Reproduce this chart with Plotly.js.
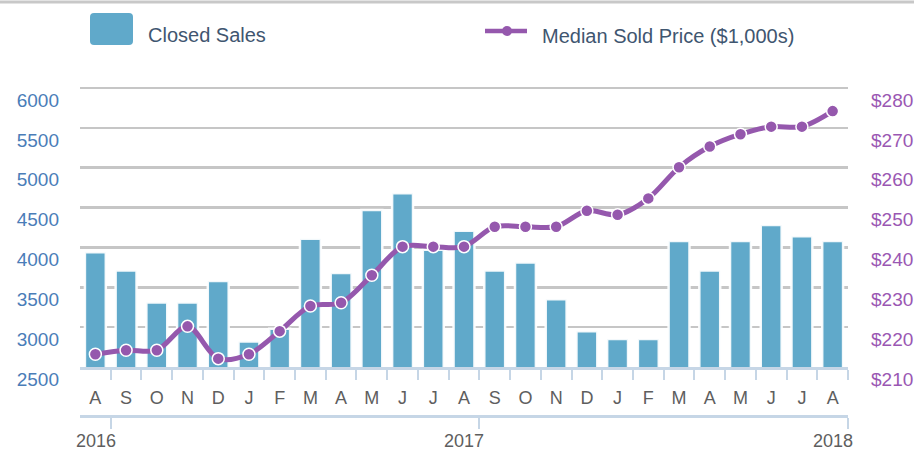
<!DOCTYPE html>
<html>
<head>
<meta charset="utf-8">
<script src="https://cdn.plot.ly/plotly-3.0.1.min.js"></script>
<style>html,body{margin:0;padding:0;background:#fff;}#chart{width:914px;height:451px;}</style>
</head>
<body>
<div id="chart"></div>
<script>
// ---- data ----
const months = ['A','S','O','N','D','J','F','M','A','M','J','J','A','S','O','N','D','J','F','M','A','M','J','J','A'];
const closedSales = [3940,3710,3310,3310,3580,2820,2980,4110,3680,4470,4680,3970,4210,3710,3810,3350,2950,2850,2850,4080,3710,4080,4280,4140,4080];
const medianPrice = [213.2,214.2,214.2,220.2,212.1,213.2,219.0,225.3,226.1,233.0,240.2,240.2,240.2,245.2,245.2,245.2,249.2,248.2,252.3,260.1,265.3,268.4,270.3,270.3,274.2];
const salesTicks = [2500,3000,3500,4000,4500,5000,5500,6000];
const priceTicks = [210,220,230,240,250,260,270,280];
const yearLabels = ['2016','2017','2018'];
const yearTickPos = [0.5,12.5,24.5];
const seriesNames = ['Closed Sales','Median Sold Price ($1,000s)'];

// ---- layout helpers ----
const W = 914, H = 451;
const M = {l:80, r:66, t:84, b:36};
const pw = W - M.l - M.r, ph = H - M.t - M.b;
const px = x => (x - M.l) / pw;
const py = y => (H - M.b - y) / ph;
const idx = months.map((_, i) => i);
const boundaries = months.map((_, i) => i + 0.5);

const FONT = 'Liberation Sans, Arial, Helvetica, sans-serif';
const BAR = '#60a9ca', PURPLE = '#9558ad', BLUE_TXT = '#4a7db8', PURPLE_TXT = '#9a57b3';
const GRAY_TXT = '#5e5e5e', AXIS = '#c6d6e6', GRID = '#c6c6c6', LEG_TXT = '#3f5670';

const traces = [
  {
    type: 'bar', name: seriesNames[0], x: idx, y: closedSales, width: 0.68,
    marker: {color: BAR, line: {color: 'rgba(255,255,255,0.92)', width: 2.5}},
    xaxis: 'x', yaxis: 'y', hoverinfo: 'y'
  },
  {
    type: 'scatter', mode: 'lines+markers', name: seriesNames[1], x: idx, y: medianPrice,
    line: {color: PURPLE, width: 5, shape: 'spline', smoothing: 0.9},
    marker: {color: PURPLE, size: 12, line: {color: '#ffffff', width: 1.5}},
    xaxis: 'x', yaxis: 'y2', hoverinfo: 'y'
  },
  { // invisible anchor trace for the year axis
    type: 'scatter', mode: 'markers', x: [0], y: [0], xaxis: 'x3', yaxis: 'y3',
    marker: {opacity: 0}, hoverinfo: 'skip', showlegend: false
  }
];

const mainBottom = py(367);

const layout = {
  width: W, height: H,
  margin: M,
  paper_bgcolor: '#ffffff', plot_bgcolor: 'rgba(0,0,0,0)',
  showlegend: false,
  font: {family: FONT},
  xaxis: {
    range: [-0.5, 24.5], tickmode: 'array', tickvals: idx, ticktext: months,
    ticks: '', showgrid: false, zeroline: false,
    showline: true, linecolor: AXIS, linewidth: 3,
    tickfont: {size: 18, color: GRAY_TXT, family: FONT},
    ticklabelstandoff: 12,
    minor: {tickmode: 'array', tickvals: boundaries, ticks: 'outside', ticklen: 10, tickwidth: 2, tickcolor: AXIS, showgrid: false},
    anchor: 'y', fixedrange: true
  },
  yaxis: {
    domain: [mainBottom, 1], range: [2500, 6050], tickmode: 'array', tickvals: salesTicks,
    showgrid: true, gridcolor: GRID, gridwidth: 2.5, zeroline: false, showline: false, ticks: '',
    tickfont: {size: 19, color: BLUE_TXT, family: FONT},
    ticklabelshift: 12, ticklabelstandoff: 20, anchor: 'x'
  },
  yaxis2: {
    overlaying: 'y', side: 'right', range: [210, 281], tickmode: 'array', tickvals: priceTicks,
    ticktext: priceTicks.map(v => '$' + v),
    showgrid: false, zeroline: false, showline: false, ticks: '',
    tickfont: {size: 19, color: PURPLE_TXT, family: FONT},
    ticklabelshift: 12, ticklabelstandoff: 22, anchor: 'x'
  },
  xaxis3: {
    range: [-0.5, 24.5], tickmode: 'array', tickvals: yearTickPos,
    ticks: 'outside', ticklen: 11, tickwidth: 2, tickcolor: AXIS, showticklabels: false,
    showline: true, linecolor: AXIS, linewidth: 3, showgrid: false, zeroline: false,
    anchor: 'y3'
  },
  yaxis3: {domain: [0, 0.01], visible: false, range: [0, 1], anchor: 'x3'},
  shapes: [
    // top rule
    {type: 'line', xref: 'paper', yref: 'paper', x0: px(0), x1: px(W), y0: py(2), y1: py(2),
     line: {color: '#c8c8c8', width: 3}},
    // legend swatch (bars)
    {type: 'path', xref: 'paper', yref: 'paper', fillcolor: BAR, line: {width: 0},
     path: `M ${px(94)} ${py(13)} L ${px(129)} ${py(13)} Q ${px(133)} ${py(13)} ${px(133)} ${py(17)} L ${px(133)} ${py(41)} Q ${px(133)} ${py(45)} ${px(129)} ${py(45)} L ${px(94)} ${py(45)} Q ${px(90)} ${py(45)} ${px(90)} ${py(41)} L ${px(90)} ${py(17)} Q ${px(90)} ${py(13)} ${px(94)} ${py(13)} Z`},
    // legend line
    {type: 'line', xref: 'paper', yref: 'paper', x0: px(485), x1: px(527), y0: py(31), y1: py(31),
     line: {color: PURPLE, width: 4.5}},
    {type: 'circle', xref: 'paper', yref: 'paper', x0: px(502), x1: px(512), y0: py(26), y1: py(36),
     fillcolor: PURPLE, line: {width: 0}}
  ],
  annotations: [
    {xref: 'paper', yref: 'paper', x: px(146), y: py(35), xanchor: 'left', yanchor: 'middle',
     text: seriesNames[0], showarrow: false, font: {size: 20, color: LEG_TXT, family: FONT}},
    {xref: 'paper', yref: 'paper', x: px(540), y: py(36), xanchor: 'left', yanchor: 'middle',
     text: seriesNames[1], showarrow: false, font: {size: 20, color: LEG_TXT, family: FONT}}
  ].concat(yearLabels.map((t, i) => ({
    xref: 'x3', yref: 'paper', x: yearTickPos[i], y: py(441), xshift: -15,
    xanchor: 'center', yanchor: 'middle', text: t, showarrow: false,
    font: {size: 18, color: GRAY_TXT, family: FONT}
  })))
};

Plotly.newPlot('chart', traces, layout, {displayModeBar: false, staticPlot: true});
</script>
</body>
</html>
